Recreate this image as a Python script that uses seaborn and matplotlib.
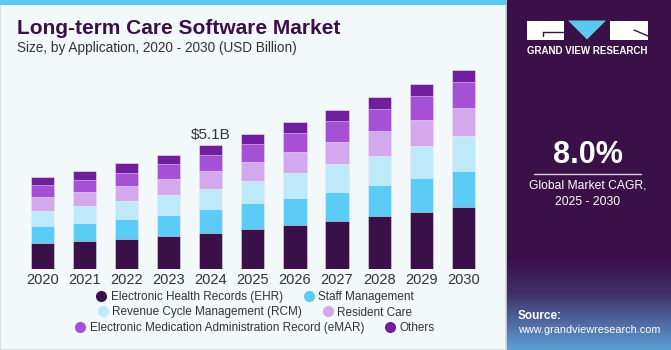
import numpy as np
import pandas as pd
import matplotlib.pyplot as plt
import seaborn as sns
from matplotlib.patches import Rectangle, Polygon
from matplotlib.lines import Line2D
from matplotlib.colors import LinearSegmentedColormap

sns.set_theme(style="white")
plt.rcParams["font.family"] = ["Liberation Sans", "DejaVu Sans"]

# values (USD Billion)
years = [str(y) for y in range(2020, 2031)]
ehr = [1.08, 1.16, 1.26, 1.38, 1.50, 1.67, 1.83, 1.98, 2.19, 2.36, 2.57]
staff = [0.70, 0.74, 0.81, 0.85, 0.96, 1.03, 1.11, 1.19, 1.27, 1.38, 1.46]
rcm = [0.63, 0.68, 0.73, 0.81, 0.85, 0.93, 1.01, 1.14, 1.20, 1.31, 1.42]
resident = [0.57, 0.59, 0.62, 0.66, 0.74, 0.79, 0.86, 0.92, 1.00, 1.07, 1.15]
emar = [0.48, 0.49, 0.55, 0.62, 0.66, 0.73, 0.77, 0.86, 0.92, 0.98, 1.08]
others = [0.34, 0.37, 0.38, 0.38, 0.40, 0.41, 0.45, 0.45, 0.48, 0.49, 0.48]

segments = ["Electronic Health Records (EHR)", "Staff Management",
            "Revenue Cycle Management (RCM)", "Resident Care",
            "Electronic Medication Administration Record (eMAR)", "Others"]
colors = ["#3a1048", "#5ccbf5", "#bde9f8", "#d4a8ec", "#a551d6", "#6f1f9e"]
series = [ehr, staff, rcm, resident, emar, others]

W, H = 671, 350
def fx(x):
    return x / W
def fy(y):
    return 1 - y / H

fig = plt.figure(figsize=(W / 100, H / 100), dpi=100)
fig.patch.set_facecolor("#f3f8fb")

# panel border and top strip
fig.patches.append(Rectangle((0, 0), fx(506), 1, transform=fig.transFigure,
                             facecolor="none", edgecolor="#d3d9de", lw=1.2))
fig.patches.append(Rectangle((0, fy(5)), fx(506), 5 / H, transform=fig.transFigure,
                             facecolor="#5bc8ee", edgecolor="none"))

# stacked bars (cumulative, tallest drawn first)
df = pd.DataFrame({"year": years})
cum = np.zeros(len(years))
for name, vals in zip(segments, series):
    cum = cum + np.array(vals)
    df[name] = cum

ax = fig.add_axes([fx(17.3), 80.7 / H, 471.2 / W, (8.5 / 0.04103) / H])
ax.set_facecolor("none")
for name, c in reversed(list(zip(segments, colors))):
    sns.barplot(data=df, x="year", y=name, color=c, saturation=1, width=0.55,
                errorbar=None, edgecolor=(1, 1, 1, 0.45), linewidth=0.7, ax=ax)

ax.set_xlim(-0.6, 10.6)
ax.set_ylim(0, 8.5)
ax.set_xlabel("")
ax.set_ylabel("")
ax.set_yticks([])
for s in ax.spines.values():
    s.set_visible(False)
ax.tick_params(axis="x", length=0, pad=3, labelsize=10.5, labelcolor="#333333")

total_2024 = df[segments[-1]].iloc[4]
ax.text(4, total_2024 + 0.12, f"${total_2024:.1f}B", ha="center", va="bottom",
        fontsize=11, color="#333333")

# titles
fig.text(fx(17), fy(28), "Long-term Care Software Market", fontsize=15,
         fontweight="bold", color="#3a1048", va="center", ha="left")
fig.text(fx(17), fy(48), "Size, by Application, 2020 - 2030 (USD Billion)",
         fontsize=9.8, color="#333333", va="center", ha="left")

# legend, three centered rows
handles = [Line2D([], [], marker="o", linestyle="", markersize=7,
                  markerfacecolor=c, markeredgecolor=c) for c in colors]
for i, yy in enumerate([297, 312.5, 328]):
    leg = fig.legend(handles[2 * i:2 * i + 2], segments[2 * i:2 * i + 2], ncol=2,
                     loc="center", bbox_to_anchor=(fx(254), fy(yy)), frameon=False,
                     fontsize=8.5, handletextpad=0.2, columnspacing=1.6,
                     handlelength=1.2, borderpad=0, borderaxespad=0)
    for t in leg.get_texts():
        t.set_color("#333333")

# right panel
pax = fig.add_axes([fx(506), 0, 165 / W, 1])
cmap = LinearSegmentedColormap.from_list(
    "panel", [(0, "#3a1048"), (0.74, "#3a1048"), (0.84, "#40306a"), (1, "#5d9fd4")])
grad = np.linspace(0, 1, 256).reshape(-1, 1)
pax.imshow(grad, aspect="auto", cmap=cmap, extent=[0, 165, 350, 0])
pax.set_xlim(0, 165)
pax.set_ylim(350, 0)
pax.axis("off")

# logo
ox = 506
pax.add_patch(Rectangle((527 - ox, 20.5), 36.5, 19, facecolor="white", edgecolor="none"))
pax.add_patch(Polygon([(568 - ox, 20.5), (606 - ox, 20.5), (587 - ox, 39.5)],
                      facecolor="#5bc8ee", edgecolor="none"))
pax.add_patch(Rectangle((610 - ox, 20.5), 38, 19, facecolor="white", edgecolor="none"))
pax.plot([543 - ox, 563 - ox], [31.5, 31.5], color="#3a1048", lw=1)
pax.plot([543 - ox, 543 - ox], [31.5, 36], color="#3a1048", lw=1)
pax.plot([634 - ox, 648 - ox], [30, 36], color="#3a1048", lw=1)
pax.text(587 - ox, 51, "GRAND VIEW RESEARCH", color="white", fontsize=7,
         fontweight="bold", ha="center", va="center")

pax.text(588 - ox, 155, "8.0%", color="white", fontsize=22, fontweight="bold",
         ha="center", va="center")
pax.plot([534 - ox, 641 - ox], [173.5, 173.5], color="#d8d0e0", lw=1)
pax.text(588 - ox, 186, "Global Market CAGR,", color="white", fontsize=8.7,
         ha="center", va="center")
pax.text(588 - ox, 202, "2025 - 2030", color="white", fontsize=8.7,
         ha="center", va="center")
pax.text(518 - ox, 316, "Source:", color="white", fontsize=8.5, fontweight="bold",
         ha="left", va="center")
pax.text(518 - ox, 330, "www.grandviewresearch.com", color="white", fontsize=7.8,
         ha="left", va="center")

fig.savefig("out.png", dpi=100, facecolor=fig.get_facecolor())
